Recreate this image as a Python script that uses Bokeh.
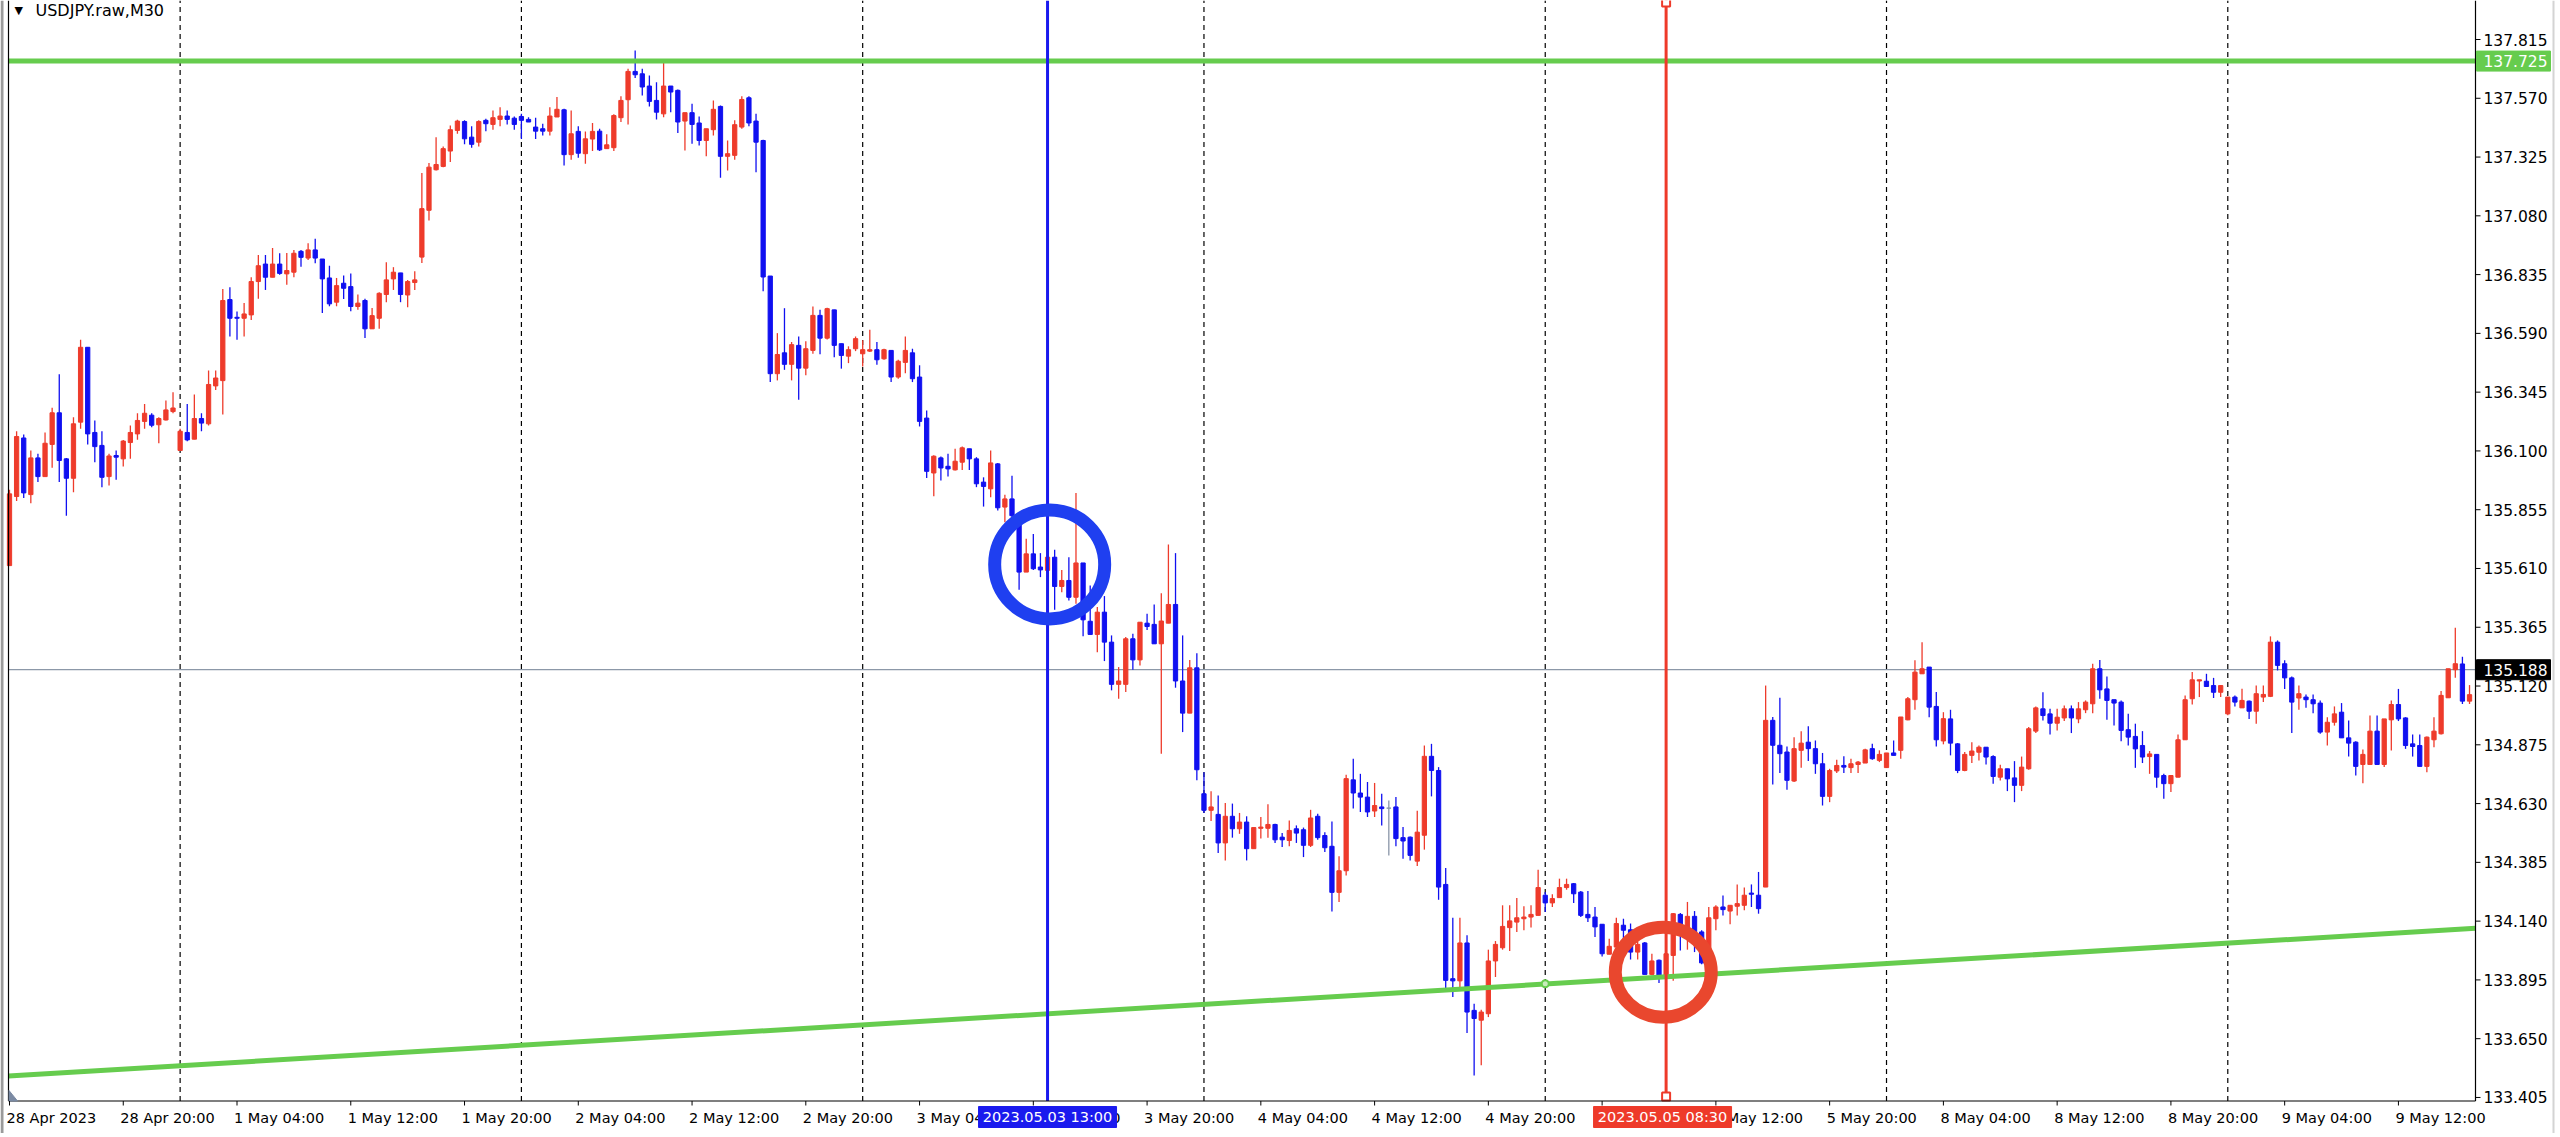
from bokeh.plotting import figure
from bokeh.models import ColumnDataSource, Range1d
from bokeh.core.properties import value
from bokeh.embed import file_html
from bokeh.resources import INLINE

# USDJPY.raw M30, bars from 28 Apr 2023 12:00 (index 0) to 9 May 2023 17:00
opens = [
    135.622, 135.910, 136.154, 135.918, 136.071, 135.993, 136.127, 136.259, 136.067, 135.986,
    136.220, 136.532, 136.177, 136.123, 135.993, 136.081, 136.067, 136.135, 136.171, 136.223,
    136.249, 136.209, 136.229, 136.264, 136.102, 136.177, 136.149, 136.235, 136.213, 136.371,
    136.393, 136.731, 136.657, 136.653, 136.667, 136.806, 136.879, 136.824, 136.879, 136.838,
    136.845, 136.932, 136.904, 136.938, 136.900, 136.821, 136.720, 136.799, 136.785, 136.702,
    136.727, 136.609, 136.653, 136.752, 136.817, 136.842, 136.750, 136.802, 136.908, 137.103,
    137.272, 137.286, 137.350, 137.436, 137.473, 137.408, 137.387, 137.478, 137.461, 137.482,
    137.496, 137.487, 137.494, 137.482, 137.450, 137.443, 137.433, 137.492, 137.522, 137.335,
    137.432, 137.339, 137.400, 137.433, 137.360, 137.364, 137.489, 137.564, 137.682, 137.672,
    137.621, 137.561, 137.505, 137.621, 137.603, 137.475, 137.510, 137.467, 137.394, 137.439,
    137.536, 137.328, 137.332, 137.450, 137.572, 137.475, 137.394, 136.829, 136.422, 136.509,
    136.461, 136.540, 136.445, 136.519, 136.665, 136.570, 136.688, 136.547, 136.495, 136.526,
    136.505, 136.516, 136.522, 136.484, 136.519, 136.408, 136.469, 136.509, 136.408, 136.237,
    136.008, 136.071, 136.036, 136.021, 136.053, 136.109, 136.067, 135.970, 135.942, 136.046,
    135.866, 135.900, 135.830, 135.595, 135.671, 135.616, 135.602, 135.657, 135.535, 135.560,
    135.490, 135.633, 135.390, 135.335, 135.428, 135.303, 135.127, 135.127, 135.317, 135.229,
    135.382, 135.377, 135.296, 135.382, 135.460, 135.141, 135.007, 135.196, 134.671, 134.602,
    134.585, 134.466, 134.577, 134.525, 134.553, 134.442, 134.527, 134.527, 134.543, 134.490,
    134.476, 134.525, 134.521, 134.456, 134.577, 134.497, 134.452, 134.260, 134.350, 134.729,
    134.674, 134.657, 134.599, 134.616, 134.611, 134.616, 134.488, 134.490, 134.390, 134.498,
    134.827, 134.768, 134.293, 133.900, 133.891, 134.049, 133.768, 133.727, 133.754, 133.974,
    134.029, 134.113, 134.136, 134.150, 134.157, 134.164, 134.248, 134.216, 134.238, 134.280,
    134.296, 134.261, 134.168, 134.157, 134.127, 134.002, 134.032, 134.123, 134.104, 134.011,
    134.049, 133.918, 133.977, 133.907, 133.997, 134.168, 134.104, 134.160, 134.095, 133.977,
    134.150, 134.199, 134.182, 134.202, 134.206, 134.257, 134.248, 134.282, 134.977, 134.873,
    134.845, 134.724, 134.852, 134.886, 134.859, 134.796, 134.660, 134.766, 134.789, 134.780,
    134.793, 134.799, 134.859, 134.810, 134.780, 134.841, 134.852, 134.979, 135.063, 135.171,
    135.199, 135.035, 134.891, 134.983, 134.879, 134.768, 134.831, 134.844, 134.865, 134.826,
    134.740, 134.775, 134.737, 134.706, 134.775, 134.932, 135.025, 135.004, 134.965, 134.987,
    135.025, 134.983, 135.021, 135.046, 135.192, 135.108, 135.063, 135.053, 134.938, 134.910,
    134.872, 134.826, 134.835, 134.747, 134.713, 134.740, 134.896, 135.067, 135.141, 135.140,
    135.122, 135.094, 135.004, 135.074, 135.029, 135.057, 135.015, 135.074, 135.077, 135.303,
    135.213, 135.154, 135.070, 135.074, 135.063, 135.049, 134.928, 134.969, 135.011, 134.904,
    134.886, 134.793, 134.793, 134.932, 134.793, 134.979, 135.043, 134.987, 134.879, 134.872,
    134.785, 134.896, 134.921, 135.071, 135.188, 135.212, 135.057,
]
highs = [
    135.938, 136.182, 136.168, 136.102, 136.088, 136.177, 136.280, 136.420, 136.071, 136.240,
    136.563, 136.532, 136.227, 136.182, 136.088, 136.102, 136.146, 136.206, 136.257, 136.296,
    136.257, 136.240, 136.310, 136.345, 136.192, 136.296, 136.335, 136.257, 136.435, 136.435,
    136.775, 136.782, 136.681, 136.717, 136.824, 136.917, 136.917, 136.946, 136.924, 136.925,
    136.938, 136.938, 136.966, 136.984, 136.900, 136.872, 136.821, 136.831, 136.840, 136.752,
    136.734, 136.696, 136.761, 136.886, 136.866, 136.842, 136.813, 136.849, 137.258, 137.300,
    137.408, 137.369, 137.457, 137.480, 137.478, 137.453, 137.478, 137.485, 137.519, 137.533,
    137.519, 137.494, 137.505, 137.491, 137.489, 137.464, 137.533, 137.575, 137.526, 137.519,
    137.453, 137.432, 137.467, 137.443, 137.420, 137.503, 137.578, 137.693, 137.769, 137.693,
    137.665, 137.637, 137.725, 137.621, 137.607, 137.510, 137.547, 137.494, 137.443, 137.561,
    137.540, 137.394, 137.478, 137.578, 137.578, 137.505, 137.397, 136.829, 136.591, 136.695,
    136.554, 136.577, 136.557, 136.702, 136.688, 136.697, 136.688, 136.547, 136.536, 136.577,
    136.561, 136.605, 136.554, 136.526, 136.519, 136.480, 136.577, 136.526, 136.457, 136.269,
    136.082, 136.077, 136.088, 136.109, 136.118, 136.109, 136.074, 135.990, 136.102, 136.050,
    135.917, 135.997, 135.838, 135.734, 135.754, 135.674, 135.727, 135.688, 135.604, 135.657,
    135.925, 135.633, 135.539, 135.449, 135.495, 135.331, 135.199, 135.324, 135.338, 135.386,
    135.421, 135.460, 135.507, 135.710, 135.674, 135.331, 135.229, 135.257, 134.761, 134.681,
    134.664, 134.632, 134.630, 134.591, 134.577, 134.530, 134.574, 134.627, 134.546, 134.507,
    134.560, 134.539, 134.530, 134.604, 134.588, 134.511, 134.555, 134.410, 134.750, 134.817,
    134.754, 134.720, 134.716, 134.671, 134.643, 134.657, 134.532, 134.493, 134.600, 134.872,
    134.879, 134.782, 134.361, 134.154, 134.154, 134.081, 133.796, 133.771, 134.021, 134.057,
    134.206, 134.206, 134.236, 134.202, 134.206, 134.354, 134.261, 134.252, 134.317, 134.317,
    134.299, 134.266, 134.266, 134.199, 134.127, 134.067, 134.154, 134.150, 134.130, 134.053,
    134.053, 134.004, 133.980, 134.010, 134.174, 134.174, 134.220, 134.182, 134.102, 134.199,
    134.206, 134.247, 134.206, 134.293, 134.280, 134.293, 134.345, 135.122, 134.991, 135.071,
    134.868, 134.907, 134.932, 134.952, 134.893, 134.841, 134.775, 134.813, 134.827, 134.817,
    134.807, 134.859, 134.879, 134.852, 134.841, 134.893, 134.991, 135.074, 135.227, 135.303,
    135.199, 135.095, 135.011, 135.021, 134.882, 134.845, 134.886, 134.872, 134.865, 134.831,
    134.792, 134.775, 134.807, 134.826, 134.949, 135.035, 135.094, 135.025, 135.025, 135.039,
    135.039, 135.053, 135.060, 135.213, 135.229, 135.160, 135.063, 135.060, 135.004, 134.963,
    134.932, 134.849, 134.835, 134.754, 134.747, 134.918, 135.081, 135.178, 135.146, 135.171,
    135.154, 135.122, 135.074, 135.081, 135.109, 135.060, 135.122, 135.122, 135.327, 135.310,
    135.227, 135.160, 135.122, 135.085, 135.085, 135.060, 134.990, 135.035, 135.049, 134.976,
    134.890, 134.855, 134.997, 134.997, 134.983, 135.060, 135.108, 134.990, 134.918, 134.918,
    134.910, 134.990, 135.099, 135.192, 135.363, 135.242, 135.124,
]
lows = [
    135.620, 135.891, 135.904, 135.882, 135.970, 135.993, 136.030, 135.970, 135.830, 135.928,
    136.192, 136.127, 136.053, 135.949, 135.956, 135.980, 136.035, 136.067, 136.147, 136.192,
    136.199, 136.132, 136.227, 136.257, 136.102, 136.140, 136.149, 136.182, 136.206, 136.354,
    136.252, 136.577, 136.563, 136.577, 136.646, 136.734, 136.771, 136.824, 136.834, 136.793,
    136.824, 136.868, 136.896, 136.882, 136.675, 136.703, 136.703, 136.733, 136.682, 136.688,
    136.571, 136.609, 136.609, 136.720, 136.771, 136.720, 136.699, 136.771, 136.883, 137.061,
    137.269, 137.283, 137.304, 137.422, 137.378, 137.364, 137.369, 137.433, 137.439, 137.453,
    137.461, 137.439, 137.400, 137.471, 137.400, 137.415, 137.415, 137.492, 137.290, 137.314,
    137.322, 137.297, 137.350, 137.350, 137.360, 137.350, 137.471, 137.461, 137.654, 137.582,
    137.536, 137.482, 137.491, 137.512, 137.425, 137.352, 137.380, 137.373, 137.328, 137.415,
    137.239, 137.269, 137.314, 137.443, 137.453, 137.262, 136.766, 136.387, 136.394, 136.438,
    136.394, 136.313, 136.415, 136.505, 136.503, 136.564, 136.491, 136.443, 136.466, 136.516,
    136.452, 136.512, 136.459, 136.480, 136.387, 136.401, 136.424, 136.387, 136.202, 135.987,
    135.911, 135.977, 135.993, 136.018, 136.021, 136.021, 135.949, 135.868, 135.907, 135.852,
    135.803, 135.810, 135.521, 135.595, 135.604, 135.574, 135.574, 135.438, 135.511, 135.477,
    135.463, 135.327, 135.335, 135.261, 135.224, 135.102, 135.067, 135.095, 135.188, 135.206,
    135.354, 135.296, 134.838, 135.382, 135.113, 134.928, 135.007, 134.727, 134.591, 134.557,
    134.424, 134.393, 134.488, 134.504, 134.393, 134.442, 134.484, 134.488, 134.466, 134.449,
    134.452, 134.466, 134.407, 134.449, 134.479, 134.428, 134.180, 134.220, 134.330, 134.609,
    134.595, 134.574, 134.574, 134.539, 134.414, 134.452, 134.400, 134.393, 134.370, 134.438,
    134.660, 134.229, 133.852, 133.824, 133.852, 133.674, 133.497, 133.539, 133.740, 133.907,
    134.021, 134.016, 134.095, 134.102, 134.113, 134.164, 134.178, 134.199, 134.238, 134.271,
    134.216, 134.157, 134.136, 134.074, 133.993, 134.002, 134.032, 134.060, 133.980, 133.980,
    133.918, 133.914, 133.882, 133.900, 133.891, 134.018, 134.021, 134.011, 133.960, 133.977,
    134.102, 134.164, 134.127, 134.164, 134.185, 134.199, 134.171, 134.282, 134.710, 134.757,
    134.688, 134.720, 134.779, 134.807, 134.754, 134.622, 134.636, 134.757, 134.757, 134.757,
    134.757, 134.799, 134.813, 134.803, 134.780, 134.831, 134.817, 134.977, 135.021, 135.171,
    134.990, 134.868, 134.877, 134.831, 134.757, 134.765, 134.799, 134.810, 134.793, 134.713,
    134.726, 134.682, 134.636, 134.682, 134.771, 134.924, 134.976, 134.918, 134.935, 134.974,
    134.924, 134.965, 135.007, 135.007, 135.067, 134.979, 134.955, 134.890, 134.872, 134.779,
    134.799, 134.754, 134.696, 134.650, 134.678, 134.740, 134.896, 135.043, 135.074, 135.118,
    135.070, 135.074, 134.998, 135.035, 135.029, 134.983, 134.963, 135.053, 135.074, 135.185,
    135.108, 134.924, 135.021, 135.029, 135.007, 134.921, 134.872, 134.955, 134.904, 134.826,
    134.747, 134.715, 134.793, 134.793, 134.782, 134.851, 134.974, 134.858, 134.826, 134.785,
    134.761, 134.865, 134.918, 135.071, 135.154, 135.045, 135.045,
]
closes = [
    135.921, 136.160, 135.925, 136.071, 135.993, 136.132, 136.259, 136.060, 135.986, 136.213,
    136.532, 136.171, 136.118, 135.990, 136.079, 136.074, 136.141, 136.177, 136.227, 136.257,
    136.207, 136.235, 136.271, 136.279, 136.182, 136.146, 136.235, 136.216, 136.377, 136.404,
    136.727, 136.653, 136.653, 136.671, 136.806, 136.872, 136.824, 136.879, 136.840, 136.852,
    136.924, 136.907, 136.938, 136.904, 136.817, 136.713, 136.789, 136.778, 136.702, 136.716,
    136.609, 136.664, 136.757, 136.813, 136.845, 136.752, 136.806, 136.813, 137.110, 137.283,
    137.294, 137.360, 137.439, 137.475, 137.401, 137.378, 137.473, 137.464, 137.489, 137.496,
    137.482, 137.461, 137.478, 137.471, 137.433, 137.433, 137.496, 137.524, 137.335, 137.422,
    137.341, 137.401, 137.432, 137.355, 137.376, 137.498, 137.561, 137.682, 137.668, 137.617,
    137.557, 137.512, 137.621, 137.596, 137.471, 137.510, 137.461, 137.394, 137.443, 137.524,
    137.328, 137.339, 137.460, 137.565, 137.467, 137.387, 136.825, 136.422, 136.502, 136.461,
    136.543, 136.445, 136.526, 136.665, 136.570, 136.693, 136.540, 136.498, 136.522, 136.568,
    136.522, 136.522, 136.480, 136.522, 136.408, 136.474, 136.519, 136.401, 136.223, 136.015,
    136.078, 136.029, 136.025, 136.057, 136.113, 136.067, 135.963, 135.952, 136.050, 135.863,
    135.900, 135.830, 135.595, 135.671, 135.609, 135.604, 135.657, 135.535, 135.560, 135.490,
    135.633, 135.396, 135.335, 135.428, 135.303, 135.127, 135.141, 135.317, 135.229, 135.386,
    135.368, 135.296, 135.391, 135.460, 135.141, 135.007, 135.196, 134.771, 134.602, 134.616,
    134.466, 134.577, 134.525, 134.553, 134.442, 134.530, 134.532, 134.543, 134.479, 134.479,
    134.518, 134.507, 134.456, 134.570, 134.488, 134.446, 134.260, 134.350, 134.734, 134.674,
    134.657, 134.595, 134.622, 134.609, 134.611, 134.484, 134.474, 134.414, 134.511, 134.827,
    134.768, 134.282, 133.893, 133.891, 134.049, 133.761, 133.734, 133.761, 133.974, 134.043,
    134.118, 134.141, 134.154, 134.157, 134.168, 134.280, 134.216, 134.234, 134.280, 134.293,
    134.254, 134.164, 134.154, 134.116, 134.004, 134.035, 134.130, 134.102, 134.011, 134.043,
    133.918, 133.974, 133.907, 134.004, 134.171, 134.104, 134.160, 134.095, 133.966, 134.154,
    134.199, 134.188, 134.206, 134.213, 134.248, 134.252, 134.192, 134.977, 134.873, 134.838,
    134.727, 134.859, 134.882, 134.859, 134.796, 134.660, 134.768, 134.789, 134.782, 134.796,
    134.803, 134.854, 134.817, 134.835, 134.841, 134.831, 134.991, 135.067, 135.178, 135.192,
    135.032, 134.896, 134.984, 134.882, 134.768, 134.835, 134.849, 134.865, 134.824, 134.743,
    134.775, 134.733, 134.706, 134.782, 134.942, 135.029, 134.997, 134.965, 134.990, 135.025,
    134.987, 135.025, 135.053, 135.192, 135.104, 135.060, 135.049, 134.935, 134.907, 134.858,
    134.824, 134.837, 134.740, 134.713, 134.747, 134.896, 135.063, 135.146, 135.146, 135.118,
    135.094, 135.122, 135.074, 135.053, 135.060, 135.015, 135.088, 135.085, 135.303, 135.206,
    135.154, 135.053, 135.088, 135.063, 135.046, 134.928, 134.969, 135.004, 134.904, 134.882,
    134.785, 134.835, 134.932, 134.793, 134.983, 135.043, 134.983, 134.872, 134.868, 134.785,
    134.907, 134.932, 135.081, 135.192, 135.213, 135.057, 135.084,
]

time_ticks = [0, 16, 32, 48, 64, 80, 96, 112, 128, 144, 160, 176, 192, 208, 224, 240, 256, 272, 288, 304, 320, 336]
time_labels = ["28 Apr 2023", "28 Apr 20:00", "1 May 04:00", "1 May 12:00", "1 May 20:00",
               "2 May 04:00", "2 May 12:00", "2 May 20:00", "3 May 04:00", "3 May 12:00",
               "3 May 20:00", "4 May 04:00", "4 May 12:00", "4 May 20:00", "5 May 04:00",
               "5 May 12:00", "5 May 20:00", "8 May 04:00", "8 May 12:00", "8 May 20:00",
               "9 May 04:00", "9 May 12:00"]
price_ticks = [133.405, 133.650, 133.895, 134.140, 134.385, 134.630, 134.875, 135.120, 135.365, 135.610,
               135.855, 136.100, 136.345, 136.590, 136.835, 137.080, 137.325, 137.570, 137.815]
day_starts = [24, 72, 120, 168, 216, 264, 312]

level_price = 137.725
bid_price = 135.188
trend_ends = [133.4945, 134.110]      # trend line value at the left edge and at the price scale
anchor_x, anchor_y = 216, 133.879
blue_bar, blue_text = 146, "2023.05.03 13:00"
red_bar, red_text = 233, "2023.05.05 08:30"
blue_ring = (146.3, 135.627)
red_ring = (232.6, 133.927)

UP = "#ee3b2b"
DOWN = "#1010f0"
DOJI = "#8a96a8"
GREEN = "#66cc4e"
BLUE_OBJ = "#1a1aee"
RED_OBJ = "#ee3a2a"
FONT = "DejaVu Sans"

# the terminal window is laid out in pixels: 7.11 px per bar, 239.9 px per yen
W, H = 2556, 1133
BAR_PX, YEN_PX = 7.10992, 239.9


def bar_at(px):
    return (px - 8.995) / BAR_PX


def price_at(py):
    return 137.97757 - py / YEN_PX


X_LEFT, X_AX = bar_at(8), bar_at(2475)          # chart area left edge / price scale line
Y_TOP, Y_BOT = price_at(0), price_at(1100.5)     # chart area top / time scale line

colors = [UP if c > o else DOWN if c < o else DOJI for o, c in zip(opens, closes)]
src = ColumnDataSource(data=dict(
    x=list(range(len(opens))), h=highs, l=lows,
    top=[max(o, c) for o, c in zip(opens, closes)],
    bottom=[min(o, c) for o, c in zip(opens, closes)],
    color=colors,
))

p = figure(width=W, height=H, x_range=Range1d(bar_at(0), bar_at(W)),
           y_range=Range1d(price_at(H), price_at(0)),
           toolbar_location=None, output_backend="svg",
           x_axis_location=None, y_axis_location=None,
           min_border_left=0, min_border_right=0, min_border_top=0, min_border_bottom=0,
           background_fill_color="white", border_fill_color="white", outline_line_color=None)
p.grid.grid_line_color = None

# day separators and bid line behind the candles
p.segment(x0=day_starts, y0=Y_BOT, x1=day_starts, y1=Y_TOP,
          line_color="black", line_dash="5 4", line_width=1.2)
p.segment(x0=[X_LEFT], y0=[bid_price], x1=[X_AX], y1=[bid_price], line_color="#8c98a8", line_width=1.2)

# candles
p.segment(x0="x", y0="h", x1="x", y1="l", source=src, line_color="color", line_width=1.3)
p.vbar(x="x", top="top", bottom="bottom", width=0.6, source=src,
       fill_color="color", line_color="color", line_width=1)

# drawn objects
p.segment(x0=[X_LEFT], y0=[level_price], x1=[X_AX], y1=[level_price], line_color=GREEN, line_width=5)
p.line([X_LEFT, X_AX], trend_ends, line_color=GREEN, line_width=5)
p.scatter([anchor_x], [anchor_y], marker="circle", size=7, fill_color="#c8ecbc",
          line_color=GREEN, line_width=2)

p.segment(x0=[blue_bar], y0=[Y_BOT], x1=[blue_bar], y1=[Y_TOP], line_color=BLUE_OBJ, line_width=3)
p.segment(x0=[red_bar], y0=[Y_BOT], x1=[red_bar], y1=[Y_TOP], line_color=RED_OBJ, line_width=3)
p.scatter([red_bar, red_bar], [price_at(2), price_at(1096)], marker="square", size=8,
          fill_color="white", line_color=RED_OBJ, line_width=2)

p.ellipse(x=[blue_ring[0]], y=[blue_ring[1]], width=110, height=109,
          width_units="screen", height_units="screen",
          fill_alpha=0, line_color="#1f3ff0", line_width=13)
p.ellipse(x=[red_ring[0]], y=[red_ring[1]], width=96, height=90,
          width_units="screen", height_units="screen",
          fill_alpha=0, line_color="#e9472e", line_width=13)

# window border, chart edge and scale lines
p.segment(x0=[bar_at(1.5)], y0=[price_at(0)], x1=[bar_at(1.5)], y1=[price_at(H)],
          line_color="#9a9a9a", line_width=3)
p.segment(x0=[bar_at(2553)], y0=[price_at(0)], x1=[bar_at(2553)], y1=[price_at(H)],
          line_color="#d4d4d4", line_width=2)
p.segment(x0=[X_LEFT, X_LEFT, X_AX], y0=[Y_TOP, Y_BOT, Y_TOP],
          x1=[X_LEFT, X_AX, X_AX], y1=[Y_BOT, Y_BOT, Y_BOT], line_color="black", line_width=1.2)
p.patch([bar_at(8.5), bar_at(17), bar_at(8.5)], [price_at(1090), Y_BOT, Y_BOT], color="#7b8aa3")

# price scale
p.segment(x0=X_AX, y0=price_ticks, x1=bar_at(2480), y1=price_ticks, line_color="black", line_width=1)
p.text(x=bar_at(2483), y=price_ticks, text=["%.3f" % t for t in price_ticks],
       text_font=value(FONT), text_font_size=value("15.5px"), text_color="black",
       text_align="left", text_baseline="middle")

# time scale, labels start at their tick like the terminal does
p.segment(x0=time_ticks, y0=Y_BOT, x1=time_ticks, y1=price_at(1105), line_color="black", line_width=1)
p.text(x=[t - 3 / BAR_PX for t in time_ticks], y=price_at(1117.5), text=time_labels,
       text_font=value(FONT), text_font_size=value("14.5px"), text_color="black",
       text_align="left", text_baseline="middle")

# coloured value boxes on the scales
for price, fill in [(level_price, GREEN), (bid_price, "black")]:
    p.quad(left=[bar_at(2476)], right=[bar_at(2550)], top=[price + 10 / YEN_PX],
           bottom=[price - 10 / YEN_PX], fill_color=fill, line_color=fill)
    p.text(x=[bar_at(2483)], y=[price], text=["%.3f" % price],
           text_font=value(FONT), text_font_size=value("15.5px"), text_color="white",
           text_align="left", text_baseline="middle")

for bar, text, fill in [(blue_bar, blue_text, BLUE_OBJ), (red_bar - 0.5, red_text, RED_OBJ)]:
    p.quad(left=[bar - 69 / BAR_PX], right=[bar + 69 / BAR_PX], top=[price_at(1106)],
           bottom=[price_at(1127)], fill_color=fill, line_color=fill)
    p.text(x=[bar], y=[price_at(1116.5)], text=[text],
           text_font=value(FONT), text_font_size=value("14.5px"), text_color="white",
           text_align="center", text_baseline="middle")

# symbol caption in the corner
p.text(x=[bar_at(14)], y=[price_at(10)], text=["\u25bc"], text_font=value(FONT),
       text_font_size=value("11px"), text_color="black", text_align="left", text_baseline="middle")
p.text(x=[bar_at(35)], y=[price_at(10)], text=["USDJPY.raw,M30"], text_font=value(FONT),
       text_font_size=value("16px"), text_color="black", text_align="left", text_baseline="middle")

open("out.html", "w").write(file_html(p, INLINE))
